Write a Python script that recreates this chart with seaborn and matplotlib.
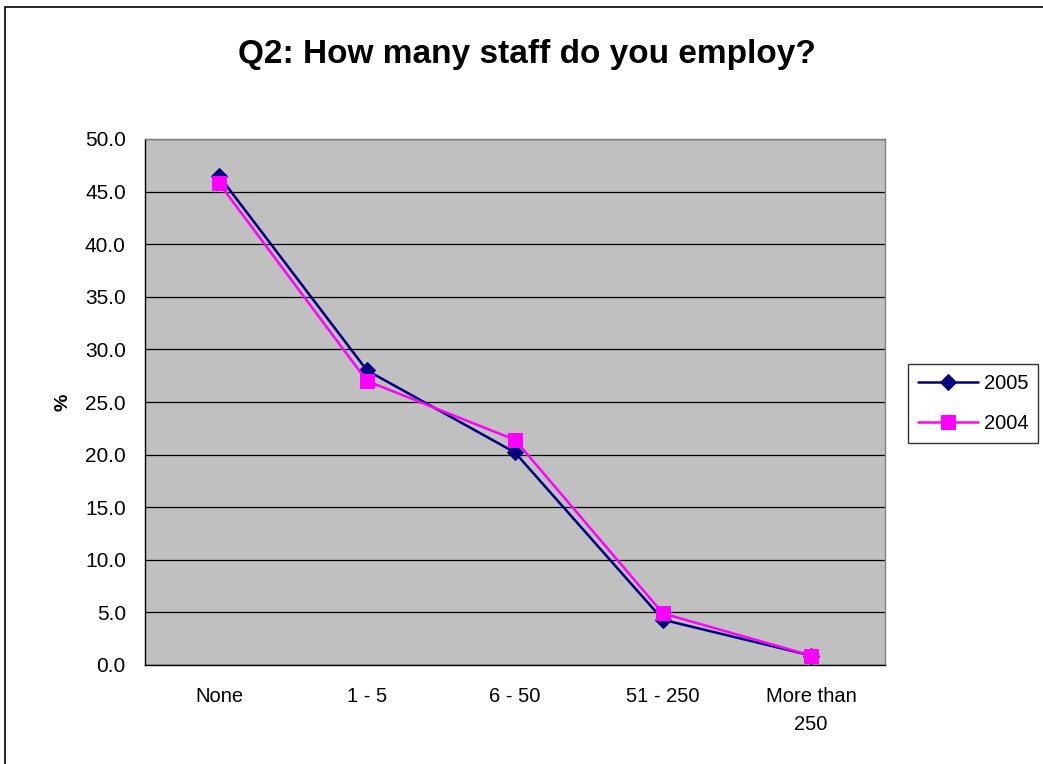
import matplotlib
matplotlib.use("Agg")
import matplotlib.pyplot as plt
import seaborn as sns
import pandas as pd
from matplotlib.patches import Rectangle
from matplotlib.ticker import MultipleLocator, FixedLocator

categories = ["None", "1 - 5", "6 - 50", "51 - 250", "More than\n250"]
values_2005 = [46.5, 28.0, 20.2, 4.3, 0.9]
values_2004 = [45.8, 27.0, 21.4, 4.9, 0.9]
series_names = ["2005", "2004"]

sns.set_theme(style="white")
plt.rcParams["font.family"] = ["Liberation Sans", "DejaVu Sans"]
plt.rcParams["text.color"] = "black"
plt.rcParams["axes.labelcolor"] = "black"
plt.rcParams["xtick.color"] = "black"
plt.rcParams["ytick.color"] = "black"

df = pd.DataFrame({
    "category": categories * 2,
    "value": values_2005 + values_2004,
    "year": [series_names[0]] * len(categories) + [series_names[1]] * len(categories),
})

W, H = 1043, 764
fig = plt.figure(figsize=(W / 100, H / 100), dpi=100)
ax = fig.add_axes([145 / W, 1 - 665 / H, (885 - 145) / W, (665 - 139) / H])
ax.set_facecolor("#C0C0C0")

palette = {"2005": "#000080", "2004": "#FF00FF"}
markers = {"2005": "D", "2004": "s"}
sizes_m = {"2005": 8, "2004": 10.5}

for yr in series_names:
    sub = df[df["year"] == yr]
    sns.lineplot(data=sub, x="category", y="value", sort=False, ax=ax,
                 color=palette[yr], marker=markers[yr], markersize=sizes_m[yr],
                 markeredgecolor=palette[yr], linewidth=1.8, label=yr, legend=False)

ax.set_xlim(-0.5, len(categories) - 0.5)
ax.set_ylim(0, 50)
ax.yaxis.set_major_locator(MultipleLocator(5))
ax.set_yticklabels([f"{v:.1f}" for v in ax.get_yticks()])
ax.grid(axis="y", color="black", linewidth=0.9)
ax.set_axisbelow(True)

ax.set_xticks(range(len(categories)))
ax.set_xticklabels(categories, fontsize=14.5, linespacing=1.6)
ax.tick_params(axis="x", which="major", length=0, pad=16)
ax.xaxis.set_minor_locator(FixedLocator([i + 0.5 for i in range(len(categories))]))
ax.tick_params(axis="x", which="minor", length=5, color="black", width=0.9, direction="out")
ax.tick_params(axis="y", which="major", length=5.8, color="black", width=0.9, direction="out",
               labelsize=15, pad=8)

for s in ["left", "bottom"]:
    ax.spines[s].set_color("black")
    ax.spines[s].set_linewidth(1.0)
for s in ["top", "right"]:
    ax.spines[s].set_color("#808080")
    ax.spines[s].set_linewidth(1.0)

ax.set_xlabel("")
ax.set_ylabel("%", fontsize=14, fontweight="bold", color="black")
ax.yaxis.set_label_coords((72 - 145) / (885 - 145), 0.5)

fig.text(527 / W, 1 - 63 / H, "Q2: How many staff do you employ?", ha="center", va="baseline",
         fontsize=24, fontweight="bold", color="black")

handles, labels = ax.get_legend_handles_labels()
leg = fig.legend(handles, labels, loc="upper left", bbox_to_anchor=(908 / W, 1 - 364 / H),
                 fontsize=14.5, frameon=True, fancybox=False, edgecolor="black",
                 handlelength=3.0, borderpad=0.5, labelspacing=1.05, handletextpad=0.25,
                 borderaxespad=0)
leg.get_frame().set_linewidth(1.0)
for t in leg.get_texts():
    t.set_color("black")

fig.patches.append(Rectangle((5 / W, -0.1), 1.2, 1 - 7 / H + 0.1, transform=fig.transFigure,
                             fill=False, edgecolor="black", linewidth=1.2))

fig.savefig("out.png", dpi=100, facecolor="white")
